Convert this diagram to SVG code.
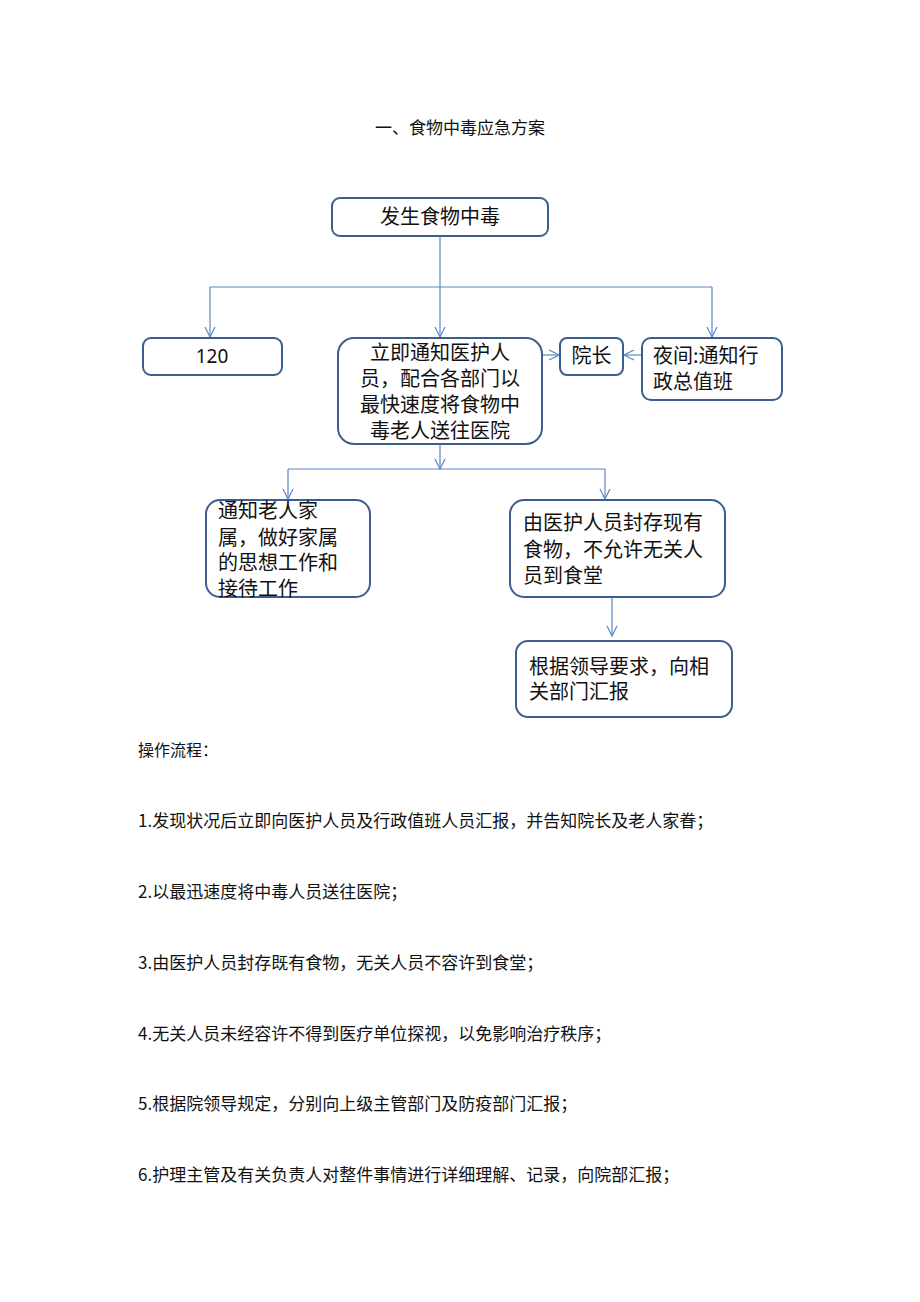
<svg xmlns="http://www.w3.org/2000/svg" width="920" height="1302" viewBox="0 0 920 1302">
<style>
.box{fill:#fff;stroke:#3b5e8e;stroke-width:2}
.c{fill:none;stroke:#5b86c5;stroke-width:1.2}
.t{font-family:"Noto Sans CJK SC","Noto Sans",sans-serif;font-size:20px;fill:#111}
.p{font-family:"Noto Sans CJK SC","Noto Sans",sans-serif;font-size:17px;fill:#111}
.mid{text-anchor:middle}
</style>
<defs>
<marker id="ah" viewBox="0 0 12 12" refX="11" refY="6" markerWidth="12" markerHeight="12" markerUnits="userSpaceOnUse" orient="auto">
<path d="M1,1 L11,6 L1,11" fill="none" stroke="#5b86c5" stroke-width="1.2"/>
</marker>
</defs>
<rect width="920" height="1302" fill="#fff"/>
<text class="p" x="460" y="134" text-anchor="middle">一、食物中毒应急方案</text>

<g id="connectors">
<path class="c" d="M440,236 V337" marker-end="url(#ah)"/>
<path class="c" d="M210,287 H712"/>
<path class="c" d="M210,287 V337" marker-end="url(#ah)"/>
<path class="c" d="M712,287 V337" marker-end="url(#ah)"/>
<path class="c" d="M542,355 H559" marker-end="url(#ah)"/>
<path class="c" d="M642,355 H624" marker-end="url(#ah)"/>
<path class="c" d="M440,444 V469" marker-end="url(#ah)"/>
<path class="c" d="M288,469 H605"/>
<path class="c" d="M288,469 V499" marker-end="url(#ah)"/>
<path class="c" d="M605,469 V499" marker-end="url(#ah)"/>
<path class="c" d="M612,597 V636" marker-end="url(#ah)"/>
</g>

<g id="n-start">
<rect class="box" x="332" y="198" width="216" height="38" rx="8"/>
<text class="t mid" x="440" y="224">发生食物中毒</text>
</g>
<g id="n-120">
<rect class="box" x="143" y="338" width="139" height="37" rx="8"/>
<text class="mid" x="212" y="363" style="font-family:'Noto Sans',sans-serif;font-size:19px;fill:#111">120</text>
</g>
<g id="n-center">
<rect class="box" x="338" y="338" width="204" height="106" rx="16"/>
<text class="t mid" x="440" y="360">立即通知医护人</text>
<text class="t mid" x="440" y="386">员，配合各部门以</text>
<text class="t mid" x="440" y="412">最快速度将食物中</text>
<text class="t mid" x="440" y="438">毒老人送往医院</text>
</g>
<g id="n-dean">
<rect class="box" x="560" y="338" width="63" height="37" rx="7"/>
<text class="t mid" x="591.5" y="363">院长</text>
</g>
<g id="n-night">
<rect class="box" x="642" y="338" width="140" height="62" rx="9"/>
<text class="t" x="653" y="363">夜间:通知行</text>
<text class="t" x="653" y="389">政总值班</text>
</g>
<g id="n-family">
<rect class="box" x="206" y="500" width="164" height="97" rx="14"/>
<text class="t" x="218" y="518">通知老人家</text>
<text class="t" x="218" y="545">属，做好家属</text>
<text class="t" x="218" y="570">的思想工作和</text>
<text class="t" x="218" y="596">接待工作</text>
</g>
<g id="n-seal">
<rect class="box" x="510" y="500" width="215" height="97" rx="14"/>
<text class="t" x="523" y="530">由医护人员封存现有</text>
<text class="t" x="523" y="557">食物，不允许无关人</text>
<text class="t" x="523" y="583">员到食堂</text>
</g>
<g id="n-report">
<rect class="box" x="516" y="641" width="216" height="76" rx="12"/>
<text class="t" x="529" y="674">根据领导要求，向相</text>
<text class="t" x="529" y="699">关部门汇报</text>
</g>

<g id="procedure">
<text class="p" x="138" y="756" style="font-size:16px">操作流程：</text>
<text class="p" x="138" y="827">1.发现状况后立即向医护人员及行政值班人员汇报，并告知院长及老人家眷；</text>
<text class="p" x="138" y="898">2.以最迅速度将中毒人员送往医院；</text>
<text class="p" x="138" y="969">3.由医护人员封存既有食物，无关人员不容许到食堂；</text>
<text class="p" x="138" y="1040">4.无关人员未经容许不得到医疗单位探视，以免影响治疗秩序；</text>
<text class="p" x="138" y="1110">5.根据院领导规定，分别向上级主管部门及防疫部门汇报；</text>
<text class="p" x="138" y="1181">6.护理主管及有关负责人对整件事情进行详细理解、记录，向院部汇报；</text>
</g>
</svg>
